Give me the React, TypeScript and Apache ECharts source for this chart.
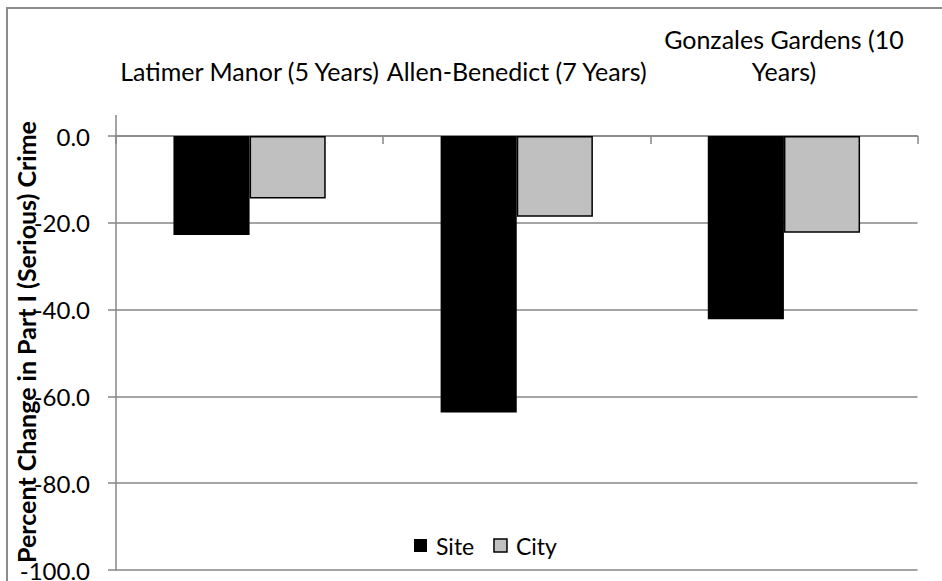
import React, { useEffect, useRef } from "react";
import * as echarts from "echarts";

const categories = [
  "Latimer Manor (5 Years)",
  "Allen-Benedict (7 Years)",
  "Gonzales Gardens (10\nYears)",
];
const siteValues = [-22.8, -63.7, -42.2];
const cityValues = [-14.4, -18.6, -22.3];
const seriesNames = ["Site", "City"];
const yTitle = "Percent Change in Part I (Serious) Crime";

const FONT = "Lato";
const GRID_GRAY = "#868686";

export default function App() {
  const ref = useRef<HTMLDivElement>(null);
  useEffect(() => {
    if (!ref.current) return;
    const chart = echarts.init(ref.current, undefined, { renderer: "svg" });
    chart.setOption({
      animation: false,
      backgroundColor: "#ffffff",
      textStyle: { fontFamily: FONT, color: "#000" },
      graphic: [
        {
          type: "rect",
          silent: true,
          shape: { x: 7, y: 8, width: 980, height: 640 },
          style: { fill: "none", stroke: "#8c8c8c", lineWidth: 2 },
        },
        {
          type: "line",
          silent: true,
          shape: { x1: 116, y1: 115, x2: 116, y2: 136 },
          style: { stroke: GRID_GRAY, lineWidth: 1.5 },
        },
      ],
      grid: {
        left: 116,
        right: 24.5,
        top: 136,
        bottom: 11,
        containLabel: false,
        outerBoundsMode: "none",
      },
      legend: {
        data: [
          { name: seriesNames[0], itemStyle: { color: "#000", borderWidth: 0 } },
          { name: seriesNames[1], itemStyle: { color: "#C0C0C0", borderColor: "#000", borderWidth: 1.5 } },
        ],
        left: 414,
        top: 534,
        padding: 0,
        icon: "rect",
        itemWidth: 13,
        itemHeight: 13,
        itemGap: 19,
        textStyle: { fontFamily: FONT, fontSize: 23, color: "#000", padding: [0, 0, 0, 4] },
      },
      xAxis: {
        type: "category",
        position: "top",
        data: categories,
        boundaryGap: true,
        axisLine: { show: true, lineStyle: { color: GRID_GRAY, width: 1.5 } },
        axisTick: { show: true, inside: true, length: 8, lineStyle: { color: GRID_GRAY, width: 1.5 } },
        axisLabel: {
          interval: 0,
          margin: 49,
          fontFamily: FONT,
          fontSize: 25,
          lineHeight: 32,
          color: "#000",
        },
      },
      yAxis: {
        type: "value",
        min: -100,
        max: 0,
        interval: 20,
        name: yTitle,
        nameLocation: "middle",
        nameGap: 78,
        nameMoveOverlap: false,
        nameTextStyle: {
          fontFamily: FONT,
          fontSize: 25,
          fontWeight: "bold",
          color: "#000",
          padding: [0, 0, 0, 22],
        },
        axisLine: { show: true, lineStyle: { color: GRID_GRAY, width: 1.5 } },
        axisTick: { show: true, length: 8, lineStyle: { color: GRID_GRAY, width: 1.5 } },
        axisLabel: {
          margin: 26,
          fontFamily: FONT,
          fontSize: 24,
          lineHeight: 20,
          color: "#000",
          formatter: (v: number) => v.toFixed(1),
        },
        splitLine: { show: true, lineStyle: { color: GRID_GRAY, width: 1.5 } },
      },
      series: [
        {
          name: seriesNames[0],
          type: "bar",
          data: siteValues,
          barGap: "0%",
          barCategoryGap: "43%",
          itemStyle: { color: "#000" },
        },
        {
          name: seriesNames[1],
          type: "bar",
          data: cityValues,
          barGap: "0%",
          barCategoryGap: "43%",
          itemStyle: { color: "#C0C0C0", borderColor: "#000", borderWidth: 1.5 },
        },
      ],
    });
    return () => chart.dispose();
  }, []);
  return (
    <div
      ref={ref}
      style={{ position: "fixed", left: 0, top: 0, width: 942, height: 581 }}
    />
  );
}
